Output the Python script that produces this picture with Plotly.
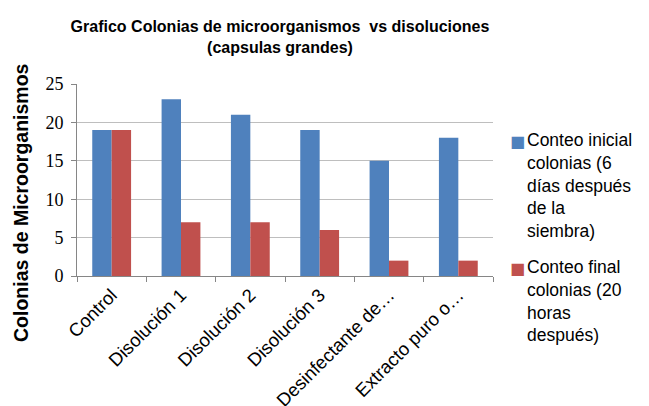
import plotly.graph_objects as go

categories = ["Control", "Disolución 1", "Disolución 2", "Disolución 3",
              "Desinfectante de…", "Extracto puro o…"]
inicial = [19, 23, 21, 19, 15, 18]
final = [19, 7, 7, 6, 2, 2]
colors = ["#4F81BD", "#C0504D"]
series_names = ["Conteo inicial<br>colonias (6<br>días después<br>de la<br>siembra)",
                "Conteo final<br>colonias (20<br>horas<br>después)"]
title_text = "<b>Grafico Colonias de microorganismos  vs disoluciones<br>(capsulas grandes)</b>"
ytitle = "<b>Colonias de Microorganismos</b>"

W, H = 649, 406
L, R, T, B = 77, 156, 84, 130
PW, PH = W - L - R, H - T - B

def px_x(x):
    return (x - L) / PW

def px_y(y):
    return (H - B - y) / PH

fig = go.Figure()
for vals, name, col in zip([inicial, final], series_names, colors):
    fig.add_trace(go.Bar(x=categories, y=vals, name=name.replace("<br>", " "),
                         marker=dict(color=col, line=dict(width=0)), showlegend=False))

fig.update_layout(
    width=W, height=H,
    margin=dict(l=L, r=R, t=T, b=B),
    paper_bgcolor="white", plot_bgcolor="white",
    barmode="group", bargap=0.44, bargroupgap=0,
    font=dict(family="Liberation Sans, Arial", color="black"),
    title=dict(text=title_text, x=280 / W, xanchor="center", y=1 - 32 / H, yanchor="middle",
               font=dict(size=16, family="Liberation Sans, Arial", color="black")),
    showlegend=False,
)
fig.update_xaxes(showline=True, linecolor="#868686", linewidth=1,
                 ticks="outside", tickson="boundaries", ticklen=5, tickcolor="#868686",
                 tickangle=-45, tickfont=dict(size=18.5, family="Liberation Sans, Arial"),
                 showgrid=False, automargin=False)
fig.update_yaxes(range=[0, 25], dtick=5, showline=True, linecolor="#868686", linewidth=1,
                 ticks="outside", ticklen=5, tickcolor="#868686", ticklabelstandoff=4,
                 tickfont=dict(size=18, family="Liberation Serif, Times New Roman"),
                 showgrid=True, gridcolor="#BEBEBE", gridwidth=1, zeroline=False,
                 automargin=False)
fig.add_annotation(text=ytitle, xref="paper", yref="paper", x=px_x(21), y=px_y(203),
                   xanchor="center", yanchor="middle", textangle=-90, showarrow=False,
                   font=dict(size=19.5, family="Liberation Sans, Arial", color="black"))

# legend drawn as text
legend_tops = [128, 255]
for name, col, top in zip(series_names, colors, legend_tops):
    fig.add_annotation(text=name, xref="paper", yref="paper", x=px_x(525), y=px_y(top),
                       xanchor="left", yanchor="top", align="left", showarrow=False,
                       font=dict(size=17.5, family="Liberation Sans, Arial", color="black"))
    fig.add_annotation(text="■", xref="paper", yref="paper", x=px_x(517), y=px_y(top + 13),
                       xanchor="center", yanchor="middle", showarrow=False,
                       font=dict(size=16, family="DejaVu Sans", color=col))
fig.write_html("out.html")
